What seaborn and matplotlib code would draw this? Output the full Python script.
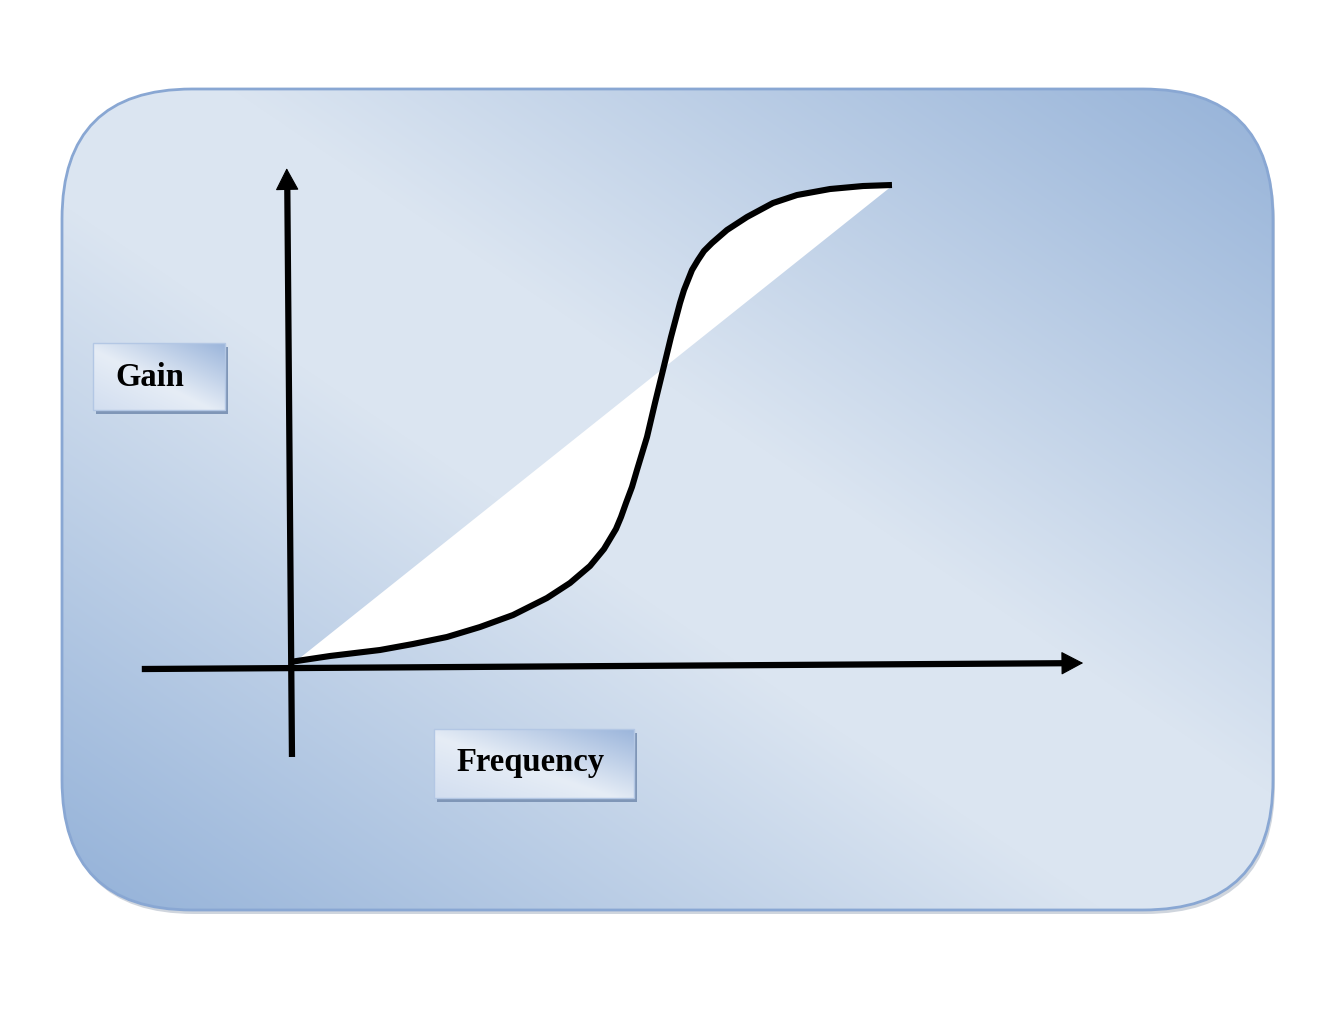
import numpy as np
import matplotlib
matplotlib.use("Agg")
import matplotlib.pyplot as plt
import seaborn as sns
from matplotlib.patches import FancyBboxPatch, Rectangle
from matplotlib.colors import to_rgb

# ---------------- data (frequency / gain units) ----------------
freq = [0.000, 0.667, 1.500, 2.050, 2.617, 3.167, 3.717, 4.283, 4.667, 5.000,
        5.233, 5.433, 5.517, 5.600, 5.700, 5.783, 5.950, 6.083, 6.217, 6.350,
        6.500, 6.567, 6.700, 6.800, 6.900, 7.033, 7.283, 7.617, 8.050, 8.450,
        9.000, 9.550, 10.033]
gain = [0.050, 0.150, 0.250, 0.350, 0.467, 0.633, 0.833, 1.117, 1.367, 1.650,
        1.933, 2.267, 2.467, 2.700, 2.967, 3.250, 3.800, 4.367, 4.917, 5.467,
        6.033, 6.250, 6.583, 6.750, 6.900, 7.033, 7.250, 7.467, 7.700, 7.833,
        7.933, 7.983, 8.000]
diag_freq = [0.0, 10.033]
diag_gain = [0.0, 8.0]
x_label = "Frequency"
y_label = "Gain"

sns.set_theme(style="white")
plt.rcParams["font.family"] = ["Liberation Serif", "DejaVu Serif"]

W, H = 1328, 1011
fig = plt.figure(figsize=(W / 100, H / 100), dpi=100)
fig.patch.set_facecolor("white")

bg = fig.add_axes([0, 0, 1, 1])
bg.axis("off")


def gradient(w, h, stops):
    u = np.linspace(0, 1, w)[None, :]
    v = np.linspace(0, 1, h)[:, None]
    t = (u + 1 - v) / 2
    pos = [s[0] for s in stops]
    cols = np.array([to_rgb(s[1]) for s in stops])
    return np.stack([np.interp(t, pos, cols[:, k]) for k in range(3)], axis=-1)


# big rounded panel
x0, y0, pw, ph = 62, 89, 1211, 821
shadow = FancyBboxPatch((x0 + 2, y0 + 4), pw, ph,
                        boxstyle="round,pad=0,rounding_size=130",
                        fc="#a9b3c2", ec="none", alpha=0.55, zorder=0)
bg.add_patch(shadow)
panel = FancyBboxPatch((x0, y0), pw, ph,
                       boxstyle="round,pad=0,rounding_size=130",
                       fc="none", ec="#89a7d3", lw=2.0, zorder=2)
bg.add_patch(panel)
img = gradient(pw, ph, [(0.0, "#93b1d8"), (0.43, "#dbe5f1"),
                        (0.57, "#dbe5f1"), (1.0, "#95b2d8")])
im = bg.imshow(img, extent=(x0, x0 + pw, y0 + ph, y0), aspect="auto",
               zorder=1, interpolation="bilinear")
im.set_clip_path(panel)


# label boxes
def label_box(bx, by, bw, bh, text, tx, ty):
    bg.add_patch(Rectangle((bx + 3, by + 4), bw, bh, fc="#7f96b7", ec="none", zorder=3))
    bimg = gradient(int(bw), int(bh), [(0.0, "#d2def0"), (0.45, "#e6edf6"),
                                        (1.0, "#9bb5db")])
    bg.imshow(bimg, extent=(bx, bx + bw, by + bh, by), aspect="auto",
              zorder=4, interpolation="bilinear")
    bg.add_patch(Rectangle((bx, by), bw, bh, fc="none", ec="#b3c7e4", lw=1, zorder=5))
    bg.text(tx, ty, text, ha="center", va="baseline", fontsize=23.5,
            fontweight="bold", color="black", zorder=6)


label_box(93, 343, 132, 67, y_label, 150, 386)
label_box(434, 729, 200, 69, x_label, 531, 771)

bg.set_xlim(0, W)
bg.set_ylim(H, 0)

# ---------------- data axes ----------------
ax = fig.add_axes([0, 0, 1, 1])
ax.axis("off")
ax.set_facecolor("none")

diag_at_freq = np.interp(freq, diag_freq, diag_gain)
ax.fill_between(freq, gain, diag_at_freq, color="white", lw=0,
                interpolate=True, zorder=2)

# axis shafts
ax.plot([-2.47, 12.95], [-0.067, 0.030], color="black", lw=4.5,
        solid_capstyle="butt", zorder=3)
ax.plot([0.033, -0.045], [-1.533, 7.95], color="black", lw=4.5,
        solid_capstyle="butt", zorder=3)
# arrow heads
head = dict(arrowstyle="-|>,head_length=0.72,head_width=0.38",
            lw=0.8, color="black", mutation_scale=20, shrinkA=0, shrinkB=0)
ax.annotate("", xy=(13.22, 0.033), xytext=(12.6, 0.027), arrowprops=head, zorder=3)
ax.annotate("", xy=(-0.055, 8.28), xytext=(-0.04, 7.6), arrowprops=head, zorder=3)

sns.lineplot(x=freq, y=gain, sort=False, estimator=None, color="black",
             lw=4.4, ax=ax, zorder=4)
for ln in ax.lines[-1:]:
    ln.set_solid_joinstyle("round")
    ln.set_solid_capstyle("butt")

ax.set_xlim(-290 / 60, (W - 290) / 60)
ax.set_ylim(-346 / 60, 665 / 60)

fig.savefig("out.png", dpi=100, facecolor="white")
